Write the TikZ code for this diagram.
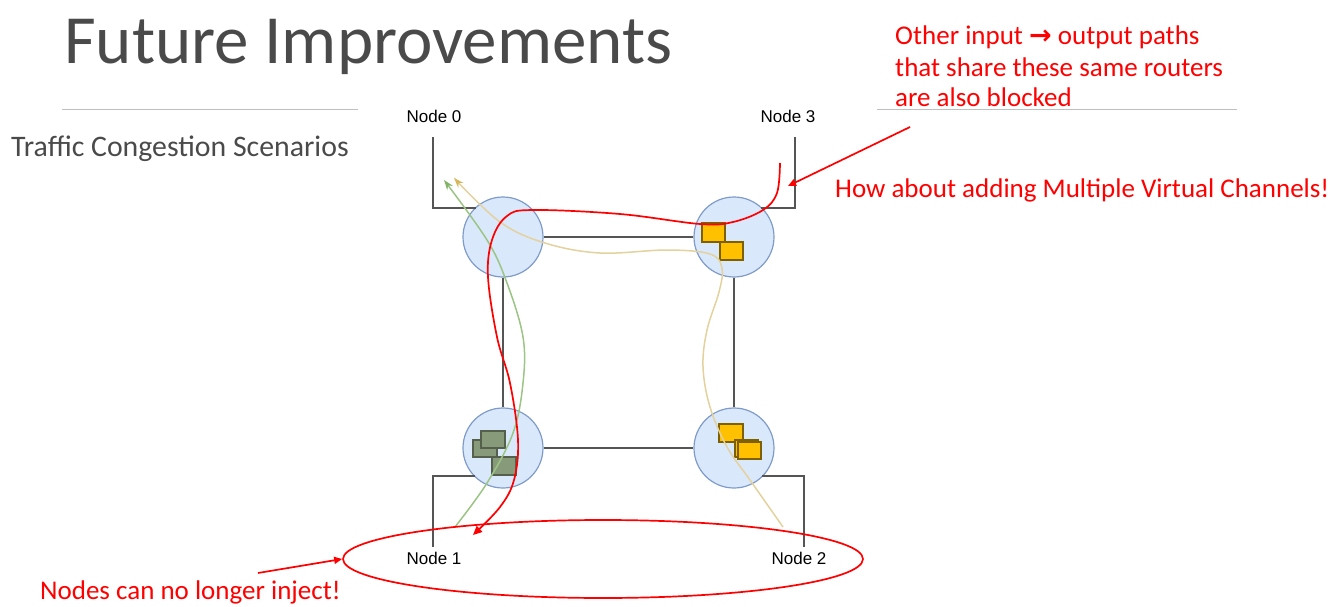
\documentclass[tikz,border=0pt]{standalone}
\usepackage{fontspec}
\setmainfont{Carlito}
\newfontfamily\arialfont{Liberation Sans}
\newfontfamily\symfont{DejaVu Sans}
\usetikzlibrary{arrows.meta,shapes.geometric}

\definecolor{titlegray}{HTML}{4A4A4A}
\definecolor{rulegray}{HTML}{BFBFBF}
\definecolor{linkgray}{HTML}{555555}
\definecolor{routerfill}{HTML}{DAE8FC}
\definecolor{routerdraw}{HTML}{7F9BC8}
\definecolor{flitfill}{HTML}{FFC000}
\definecolor{flitdraw}{HTML}{7F6000}
\definecolor{stallfill}{HTML}{879A7A}
\definecolor{stalldraw}{HTML}{55604C}
\definecolor{alertred}{HTML}{FF0000}
\definecolor{greenflow}{HTML}{9CC585}
\definecolor{greentip}{HTML}{82B366}
\definecolor{tanflow}{HTML}{E3D29E}
\definecolor{tantip}{HTML}{D6B656}

\tikzset{
  router/.style={circle, draw=routerdraw, fill=routerfill, line width=1.2pt,
    minimum size=80pt, inner sep=0pt},
  link/.style={draw=linkgray, line width=1.5pt},
  nodelabel/.style={font=\arialfont\fontsize{17}{20}\selectfont, inner sep=0pt, text=black},
  flit/.style={draw=flitdraw, fill=flitfill, line width=1.3pt},
  stall/.style={draw=stalldraw, fill=stallfill, line width=1.3pt},
  note/.style={font=\fontsize{27}{32}\selectfont, text=alertred, inner sep=0pt, anchor=base west},
  redline/.style={draw=alertred, line width=1.7pt},
  redarrow/.style={redline, -{Triangle[length=8pt,width=7pt]}},
  greenpath/.style={draw=greenflow, line width=1.5pt, -{Stealth[length=10pt,width=7pt,color=greentip]}},
  tanpath/.style={draw=tanflow, line width=1.5pt, -{Stealth[length=10pt,width=7pt,color=tantip]}},
}

\begin{document}
\begin{tikzpicture}[x=1pt,y=-1pt]
\useasboundingbox (0,0) rectangle (1344,607);

% heading and rules
\node[anchor=base west, inner sep=0pt, text=titlegray,
      font=\fontsize{69}{75}\selectfont] (title) at (64,64) {Future Improvements};
\coordinate (ruleLa) at (62,110);
\coordinate (ruleLb) at (358,110);
\coordinate (ruleRa) at (877,110);
\coordinate (ruleRb) at (1237,110);
\draw[rulegray, line width=1pt] (ruleLa) -- (ruleLb);
\draw[rulegray, line width=1pt] (ruleRa) -- (ruleRb);
\node[anchor=base west, inner sep=0pt, text=titlegray,
      font=\fontsize{29.8}{34}\selectfont] (subtitle) at (11,157) {Traffic Congestion Scenarios};

% routers
\node[router] (r0) at (503,237) {};
\node[router] (r3) at (734,237) {};
\node[router] (r1) at (503,448) {};
\node[router] (r2) at (734,448) {};

% mesh links
\draw[link] (r0) -- (r3);
\draw[link] (r1) -- (r2);
\draw[link] (r0) -- (r1);
\draw[link] (r3) -- (r2);

% processing nodes and their attachments
\node[nodelabel] (n0) at (434,116) {Node 0};
\node[nodelabel] (n3) at (788,116) {Node 3};
\node[nodelabel] (n1) at (434,558) {Node 1};
\node[nodelabel] (n2) at (799,558) {Node 2};

\coordinate (a0top) at (433,137);
\coordinate (a0bend) at (433,208);
\coordinate (a0end) at (476,208);
\coordinate (a3top) at (795,137);
\coordinate (a3bend) at (795,208);
\coordinate (a3end) at (761,208);
\coordinate (a1bot) at (433,547);
\coordinate (a1bend) at (433,476);
\coordinate (a1end) at (475,476);
\coordinate (a2bot) at (804,547);
\coordinate (a2bend) at (804,476);
\coordinate (a2end) at (762,476);
\draw[link] (a0top) -- (a0bend) -- (a0end);
\draw[link] (a3top) -- (a3bend) -- (a3end);
\draw[link] (a1bot) -- (a1bend) -- (a1end);
\draw[link] (a2bot) -- (a2bend) -- (a2end);

% buffered flits
\draw[flit] (702,223) rectangle (725,242);
\draw[flit] (720,242) rectangle (743,260);
\draw[flit] (719,424) rectangle (743,442);
\draw[flit] (735,440) rectangle (758,457);
\draw[flit] (738,442) rectangle (761,459);
\draw[stall] (473,440) rectangle (497,457);
\draw[stall] (481,431) rectangle (505,448);
\draw[stall] (492,457) rectangle (516,475);

% traffic flows
\draw[greenpath] plot[smooth, tension=0.6] coordinates {
  (455,527) (487,483) (513,433) (523,383) (523,337) (507,283) (487,240) (444,180)};
\draw[tanpath] plot[smooth, tension=0.6] coordinates {
  (783,527) (750,480) (727,447) (710,407) (703,367) (707,330) (719,292) (722,268)
  (710,254) (667,250) (600,253) (545,243) (500,222) (454,178)};
\draw[redline, -{Triangle[length=9pt,width=8pt]}] plot[smooth, tension=0.6] coordinates {
  (780,163) (777,193) (763,210) (733,222) (700,224) (620,214) (533,210) (507,216)
  (492,240) (488,277) (497,337) (510,383) (518,440) (514,480) (500,507) (473,535)};

% blocked injection region
\node[ellipse, redline, minimum width=520pt, minimum height=78pt, inner sep=0pt] (blocked) at (603,559) {};

% annotations
\node[note] (other1) at (895,45) {Other input {\symfont\bfseries →} output paths};
\node[note] (other2) at (895,77) {that share these same routers};
\node[note] (other3) at (895,107) {are also blocked};
\node[note] (vc) at (835,197) {How about adding Multiple Virtual Channels!};
\node[note] (inject) at (40,599) {Nodes can no longer inject!};

\coordinate (otherfrom) at (910,127);
\coordinate (otherto) at (788,186);
\draw[redarrow] (otherfrom) -- (otherto);
\coordinate (injectfrom) at (258,573);
\draw[redarrow] (injectfrom) -- (blocked.west);
\end{tikzpicture}
\end{document}
